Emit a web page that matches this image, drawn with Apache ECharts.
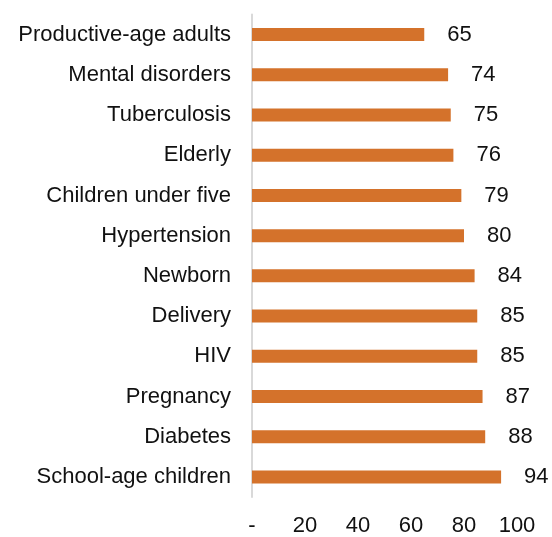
<!DOCTYPE html>
<html><head><meta charset="utf-8">
<script src="https://cdn.jsdelivr.net/npm/echarts@6/dist/echarts.min.js"></script>
<style>html,body{margin:0;padding:0;background:#fff}#c{width:552px;height:537px}</style>
</head><body><div id="c"></div>
<script>
const categories = ["Productive-age adults","Mental disorders","Tuberculosis","Elderly","Children under five","Hypertension","Newborn","Delivery","HIV","Pregnancy","Diabetes","School-age children"];
const values = [65,74,75,76,79,80,84,85,85,87,88,94];
const xTicks = [0,20,40,60,80,100];

const chart = echarts.init(document.getElementById('c'), null, {renderer:'canvas'});
chart.setOption({
  animation:false,
  grid:{left:252,right:35,top:14.5,bottom:38,containLabel:false},
  xAxis:{type:'value',min:0,max:100,interval:20,
    axisLine:{show:false},axisTick:{show:false},splitLine:{show:false},
    axisLabel:{fontFamily:'Liberation Sans',fontSize:22,color:'#111',margin:18,
      formatter:v=>v===0?'-':String(v)}},
  yAxis:{type:'category',data:categories,inverse:true,
    axisLine:{show:true,lineStyle:{color:'#d9d9d9',width:2}},axisTick:{show:false},
    axisLabel:{fontFamily:'Liberation Sans',fontSize:22,color:'#111',margin:21}},
  series:[{type:'bar',data:values,barWidth:13,itemStyle:{color:'#D4722B'},
    label:{show:true,position:'right',distance:23,fontFamily:'Liberation Sans',fontSize:22,color:'#111'}}]
});
</script></body></html>
